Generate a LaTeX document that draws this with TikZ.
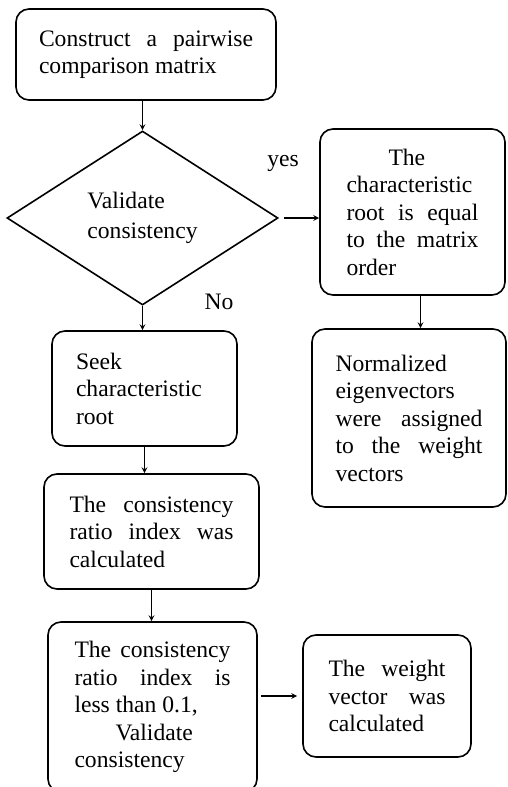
\documentclass[tikz,border=0pt]{standalone}
\usepackage{fontspec}
\setmainfont{Liberation Serif}
\usetikzlibrary{shapes.geometric}

\newcommand\flowfont{\fontsize{23.6}{27.5}\selectfont\hyphenpenalty=10000\tolerance=10000\hbadness=10000}

\begin{document}
\begin{tikzpicture}[x=1pt,y=-1pt,>=stealth,line width=1.6pt,
  stepbox/.style={draw,rounded corners=13pt,inner sep=0pt,align=justify,font=\flowfont},
  check/.style={draw,diamond,aspect=1.56,inner sep=0pt,align=left,font=\flowfont},
  tag/.style={inner sep=0pt,font=\flowfont}]
  \useasboundingbox (0,0) rectangle (507,787);
  % left column
  \node[stepbox,minimum width=260pt,minimum height=91pt,text width=214pt] (cmp) at (146,54.5)
    {Construct a pairwise\linebreak comparison matrix};
  \node[check,minimum width=271pt,minimum height=174pt] (dec) at (142.5,218)
    {Validate\\[2.5pt]consistency};
  \node[stepbox,align=left,minimum width=185pt,minimum height=115pt,text width=137pt] (seek) at (144.5,388.5)
    {Seek\\characteristic\\root};
  \node[stepbox,minimum width=215pt,minimum height=115pt,text width=164pt] (cr) at (151.5,531.5)
    {The consistency\linebreak ratio index was\linebreak calculated};
  \node[stepbox,minimum width=209pt,minimum height=170pt,text width=156pt] (less) at (152.5,707)
    {The consistency\linebreak ratio index is\linebreak less than 0.1,\\
     \hspace*{41pt}Validate\\consistency};
  % right column
  \node[stepbox,minimum width=185pt,minimum height=166pt,text width=132pt] (root) at (412.5,212)
    {\hspace*{42pt}The\\characteristic\linebreak root is equal\linebreak to the matrix\linebreak order};
  \node[stepbox,minimum width=194pt,minimum height=178pt,text width=147pt] (norm) at (409,418)
    {Normalized\\eigenvectors\\were assigned\linebreak to the weight\linebreak vectors};
  \node[stepbox,minimum width=168pt,minimum height=122pt,text width=117pt] (wv) at (387,696)
    {The weight\linebreak vector was\linebreak calculated};
  % branch labels
  \node[tag] (yes) at (283,163) {yes};
  \node[tag] (no) at (219,302) {No};
  % connectors
  \draw[->] (cmp.south -| dec.north) -- (dec.north);
  \draw[->] ([xshift=5pt]dec.east) -- (dec.east -| root.west);
  \draw[->] ([xshift=8pt]root.south) -- ([xshift=8pt]root.south |- norm.north);
  \draw[->] (dec.south) -- (dec.south |- seek.north);
  \draw[->] (seek.south) -- (seek.south |- cr.north);
  \draw[->] (cr.south) -- (cr.south |- less.north);
  \draw[->] ([xshift=3pt]less.east |- wv.west) -- ([xshift=-5pt]wv.west);
\end{tikzpicture}
\end{document}
